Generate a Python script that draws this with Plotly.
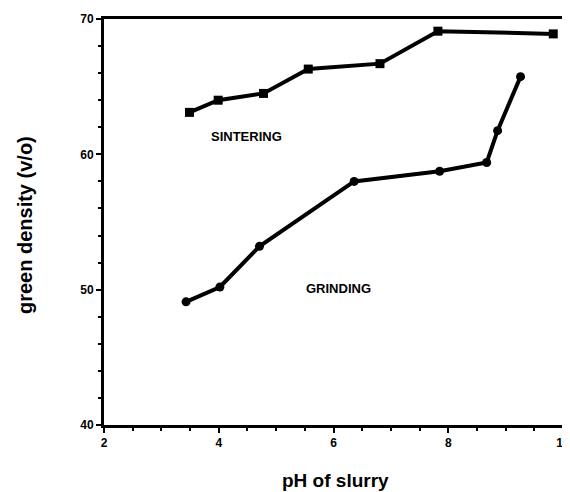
import plotly.graph_objects as go

# Data
sinter_ph = [3.49, 3.99, 4.78, 5.56, 6.81, 7.82, 9.83]
sinter_density = [63.1, 64.0, 64.5, 66.3, 66.7, 69.1, 68.9]

grind_ph = [3.43, 4.02, 4.71, 6.36, 7.85, 8.67, 8.86, 9.26]
grind_density = [49.1, 50.2, 53.2, 58.0, 58.75, 59.4, 61.75, 65.74]

x_ticks = [2, 4, 6, 8, 10]
y_ticks = [40, 50, 60, 70]

FONT = "Liberation Sans"

fig = go.Figure()
fig.add_trace(go.Scatter(
    x=sinter_ph, y=sinter_density, mode="lines+markers",
    line=dict(color="black", width=4),
    marker=dict(symbol="square", size=9, color="black"),
    showlegend=False, name="SINTERING"))
fig.add_trace(go.Scatter(
    x=grind_ph, y=grind_density, mode="lines+markers",
    line=dict(color="black", width=4),
    marker=dict(symbol="circle", size=9, color="black"),
    showlegend=False, name="GRINDING"))

fig.add_annotation(x=4.49, y=61.3, text="SINTERING", showarrow=False,
                   font=dict(family=FONT, size=13, color="black", weight="bold"))
fig.add_annotation(x=6.08, y=50.05, text="GRINDING", showarrow=False,
                   font=dict(family=FONT, size=13, color="black", weight="bold"))

# axis titles
fig.add_annotation(xref="paper", yref="paper", x=0.5054, y=-0.1355,
                   text="pH of slurry", showarrow=False,
                   xanchor="center", yanchor="middle",
                   font=dict(family=FONT, size=19, color="black", weight="bold"))
fig.add_annotation(xref="paper", yref="paper", x=-0.172, y=0.4926,
                   text="green density (v/o)", showarrow=False, textangle=-90,
                   xanchor="center", yanchor="middle",
                   font=dict(family=FONT, size=20, color="black", weight="bold"))

axis_common = dict(
    showgrid=False, zeroline=False, showline=True, linecolor="black",
    linewidth=3, mirror=True, ticks="outside", ticklen=5, tickwidth=2,
    tickcolor="black", automargin=False,
    tickfont=dict(family=FONT, size=12, color="black", weight="bold"),
    minor=dict(ticks="outside", ticklen=3, tickwidth=1.5, tickcolor="black"),
)

fig.update_xaxes(range=[2, 10], tickvals=x_ticks, **axis_common)
fig.update_yaxes(range=[40, 70], tickvals=y_ticks, **axis_common)

fig.update_layout(
    width=570, height=492,
    margin=dict(l=96, r=15, t=11, b=75),
    paper_bgcolor="white", plot_bgcolor="white",
)

fig.write_html("out.html")
